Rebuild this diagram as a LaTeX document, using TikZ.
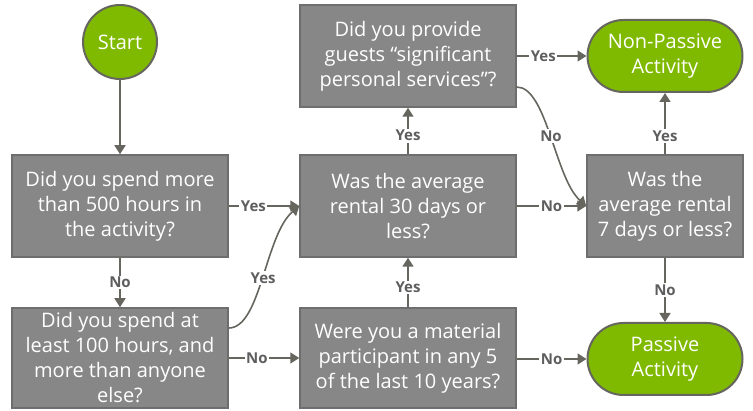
\documentclass[tikz,border=0pt]{standalone}
\usepackage{fontspec}
\setmainfont{Open Sans}
\usetikzlibrary{arrows.meta,shapes.misc,positioning}
\definecolor{boxgray}{HTML}{878787}
\definecolor{boxedge}{HTML}{6E6E6E}
\definecolor{green1}{HTML}{7FBA00}
\definecolor{lineg}{HTML}{66665F}
\definecolor{labg}{HTML}{5E5E5E}
\tikzset{
  qbox/.style={rectangle, draw=boxedge, line width=1.5pt, fill=boxgray, text=white,
    minimum width=216pt, minimum height=102pt, align=center, inner sep=0pt,
    font=\fontsize{20}{25}\selectfont},
  term/.style={rounded rectangle, draw=lineg, line width=2pt, fill=green1, text=white,
    minimum width=155pt, minimum height=72pt, align=center, inner sep=0pt,
    font=\fontsize{20}{25}\selectfont},
  startc/.style={circle, draw=lineg, line width=2pt, fill=green1, text=white,
    minimum size=74pt, inner sep=0pt, font=\fontsize{20}{25}\selectfont},
  conn/.style={draw=lineg, line width=1.6pt, -{Triangle[width=11pt,length=9pt]}},
  lab/.style={fill=white, text=labg, inner sep=1.5pt, font=\fontsize{15}{17}\selectfont\bfseries}
}
\begin{document}
\begin{tikzpicture}[x=1pt,y=-1pt]
\useasboundingbox (0,0) rectangle (753,411);
\node[startc] (start) at (120,42) {Start};
\node[qbox] (b1) at (120,206) {Did you spend more\\than 500 hours in\\the activity?};
\node[qbox, minimum height=100pt] (b2) at (120,358) {Did you spend at\\least 100 hours, and\\more than anyone\\else?};
\node[qbox] (t) at (408,56) {Did you provide\\guests “significant\\personal services”?};
\node[qbox] (m) at (408,206) {Was the average\\rental 30 days or\\less?};
\node[qbox, minimum height=100pt] (bm) at (408,358) {Were you a material\\participant in any 5\\of the last 10 years?};
\node[qbox, minimum width=156pt] (r) at (665,206) {Was the\\average rental\\7 days or less?};
\node[term] (np) at (665,56) {Non-Passive\\Activity};
\node[term] (pa) at (665,359) {Passive\\Activity};

\coordinate (b2o) at ([yshift=30pt]b2.east);
\coordinate (to) at ([yshift=-31pt]t.east);

\draw[conn] (start) -- (b1);
\draw[conn] (b1) -- node[lab]{No} (b2);
\draw[conn] (b1) -- node[lab, pos=0.35]{Yes} (m);
\draw[conn] (b2o) .. controls ([xshift=32pt]b2o) and (265,235) .. node[lab, pos=0.5]{Yes} (m.west);
\draw[conn] (b2.east |- bm.west) -- node[lab, pos=0.4]{No} (bm.west);
\draw[conn] (bm) -- node[lab, pos=0.4]{Yes} (m);
\draw[conn] (m) -- node[lab, pos=0.4]{Yes} (t);
\draw[conn] (t.east |- np.west) -- node[lab, pos=0.38]{Yes} (np.west);
\draw[conn] (to) .. controls ([xshift=30pt]to) and (555,178) .. node[lab, pos=0.5]{No} (r.west);
\draw[conn] (m) -- node[lab, pos=0.5]{No} (r);
\draw[conn] (r) -- node[lab, pos=0.3]{Yes} (np);
\draw[conn] (r) -- node[lab]{No} (pa);
\draw[conn] (bm.east |- pa.west) -- node[lab, pos=0.5]{No} (pa.west);
\end{tikzpicture}
\end{document}
